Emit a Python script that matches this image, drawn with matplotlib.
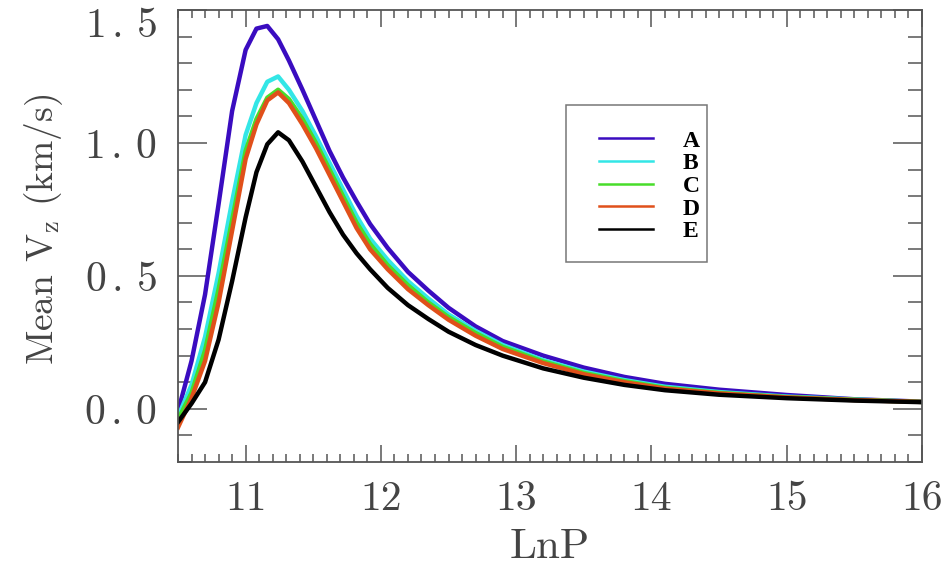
import matplotlib
matplotlib.use("Agg")
import matplotlib.pyplot as plt
from matplotlib.ticker import MultipleLocator, FixedLocator, FixedFormatter
from matplotlib.lines import Line2D
from matplotlib.patches import Rectangle
import matplotlib.transforms as mtransforms

plt.rcParams['mathtext.fontset'] = 'cm'
plt.rcParams['axes.formatter.use_mathtext'] = True

# ---- data ----
lnp = [10.5, 10.6, 10.7, 10.8, 10.9, 11.0, 11.08, 11.16, 11.24, 11.32, 11.42, 11.52,
       11.62, 11.72, 11.82, 11.92, 12.05, 12.2, 12.35, 12.5, 12.7, 12.9, 13.2, 13.5,
       13.8, 14.1, 14.5, 15.0, 15.5, 16.0]
vz_A = [-0.01, 0.18, 0.43, 0.77, 1.12, 1.35, 1.43, 1.44, 1.39, 1.31, 1.20, 1.085,
        0.97, 0.87, 0.78, 0.695, 0.605, 0.515, 0.445, 0.38, 0.31, 0.255, 0.200, 0.155,
        0.120, 0.094, 0.072, 0.052, 0.036, 0.027]
vz_B = [-0.03, 0.09, 0.27, 0.51, 0.78, 1.03, 1.15, 1.23, 1.25, 1.20, 1.12, 1.025,
        0.925, 0.825, 0.725, 0.64, 0.56, 0.48, 0.415, 0.355, 0.293, 0.24, 0.183, 0.14,
        0.108, 0.083, 0.063, 0.046, 0.035, 0.026]
vz_C = [-0.04, 0.06, 0.22, 0.45, 0.71, 0.97, 1.09, 1.17, 1.20, 1.165, 1.09, 1.0,
        0.90, 0.80, 0.70, 0.62, 0.54, 0.465, 0.40, 0.345, 0.285, 0.233, 0.178, 0.135,
        0.104, 0.079, 0.060, 0.044, 0.034, 0.026]
vz_D = [-0.07, 0.04, 0.18, 0.40, 0.67, 0.94, 1.07, 1.16, 1.19, 1.15, 1.07, 0.98,
        0.88, 0.78, 0.68, 0.60, 0.525, 0.45, 0.39, 0.335, 0.275, 0.225, 0.172, 0.13,
        0.100, 0.076, 0.058, 0.043, 0.033, 0.026]
vz_E = [-0.05, 0.02, 0.10, 0.26, 0.48, 0.72, 0.89, 0.995, 1.04, 1.01, 0.93, 0.835,
        0.74, 0.655, 0.585, 0.525, 0.455, 0.39, 0.338, 0.29, 0.24, 0.20, 0.152, 0.117,
        0.090, 0.070, 0.053, 0.040, 0.031, 0.025]
series_names = ['A', 'B', 'C', 'D', 'E']
series_values = [vz_A, vz_B, vz_C, vz_D, vz_E]
colors = ['#3a0cc0', '#33e6e6', '#48dd2a', '#e0501a', '#000000']
xticks = [11, 12, 13, 14, 15, 16]
xticklabels = ['11', '12', '13', '14', '15', '16']
yticks = [0.0, 0.5, 1.0, 1.5]
yticklabels = [r'$\mathrm{0\,.\,0}$', r'$\mathrm{0\,.\,5}$',
               r'$\mathrm{1\,.\,0}$', r'$\mathrm{1\,.\,5}$']

fig = plt.figure(figsize=(9.49, 5.65), dpi=100)
ax = fig.add_axes([178/949, 1-462/565, (922-178)/949, (462-10)/565])

for name, vals, c in zip(series_names, series_values, colors):
    ax.plot(lnp, vals, color=c, lw=3.2, label=name)

ax.set_xlim(10.5, 16.0)
ax.set_ylim(-0.2, 1.5)

tc = '#555555'
txt = '#444444'
fnt = 'cmr10'
ax.xaxis.set_major_locator(FixedLocator(xticks))
ax.xaxis.set_major_formatter(FixedFormatter(xticklabels))
ax.xaxis.set_minor_locator(MultipleLocator(0.1))
ax.yaxis.set_major_locator(FixedLocator(yticks))
ax.yaxis.set_major_formatter(FixedFormatter(yticklabels))
ax.yaxis.set_minor_locator(MultipleLocator(0.1))

ax.tick_params(which='both', direction='in', top=True, right=True, color=tc, width=1.1)
ax.tick_params(axis='x', which='major', length=12, pad=13)
ax.tick_params(axis='x', which='minor', length=6)
ax.tick_params(axis='y', which='major', length=21, pad=15)
ax.tick_params(axis='y', which='minor', length=10)
for s in ax.spines.values():
    s.set_color(tc)
    s.set_linewidth(1.3)

for lab in ax.get_xticklabels() + ax.get_yticklabels():
    lab.set_fontfamily(fnt)
    lab.set_fontsize(30)
    lab.set_color(txt)

ax.set_xlabel('LnP', fontfamily=fnt, fontsize=31, color=txt, labelpad=8)
ax.set_ylabel(r'Mean V$_{\mathrm{z}}$ (km/s)', fontfamily=fnt, fontsize=27,
              color=txt)
ax.yaxis.set_label_coords(-0.152, 0.515)

# shift the top y tick label down so it stays inside the figure
top_lab = ax.yaxis.get_major_ticks()[-1].label1
top_lab.set_transform(top_lab.get_transform() +
                      mtransforms.ScaledTranslation(0, -0.12, fig.dpi_scale_trans))

# legend
handles = [Line2D([], [], color=c, lw=1.8) for c in colors]
leg = ax.legend(handles, series_names, loc='upper left',
                bbox_to_anchor=((599-178)/744, (462-130)/452),
                frameon=False, borderpad=0, borderaxespad=0,
                handlelength=2.3, handletextpad=1.25, labelspacing=0.05,
                prop={'family': 'Liberation Serif', 'weight': 'bold', 'size': 17})
ax.add_patch(Rectangle(((566-178)/744, (462-262)/452), (707-566)/744, (262-105)/452,
                       transform=ax.transAxes, fill=False, edgecolor='#777777',
                       lw=1.1, zorder=5))

fig.savefig('out.png', dpi=100)
